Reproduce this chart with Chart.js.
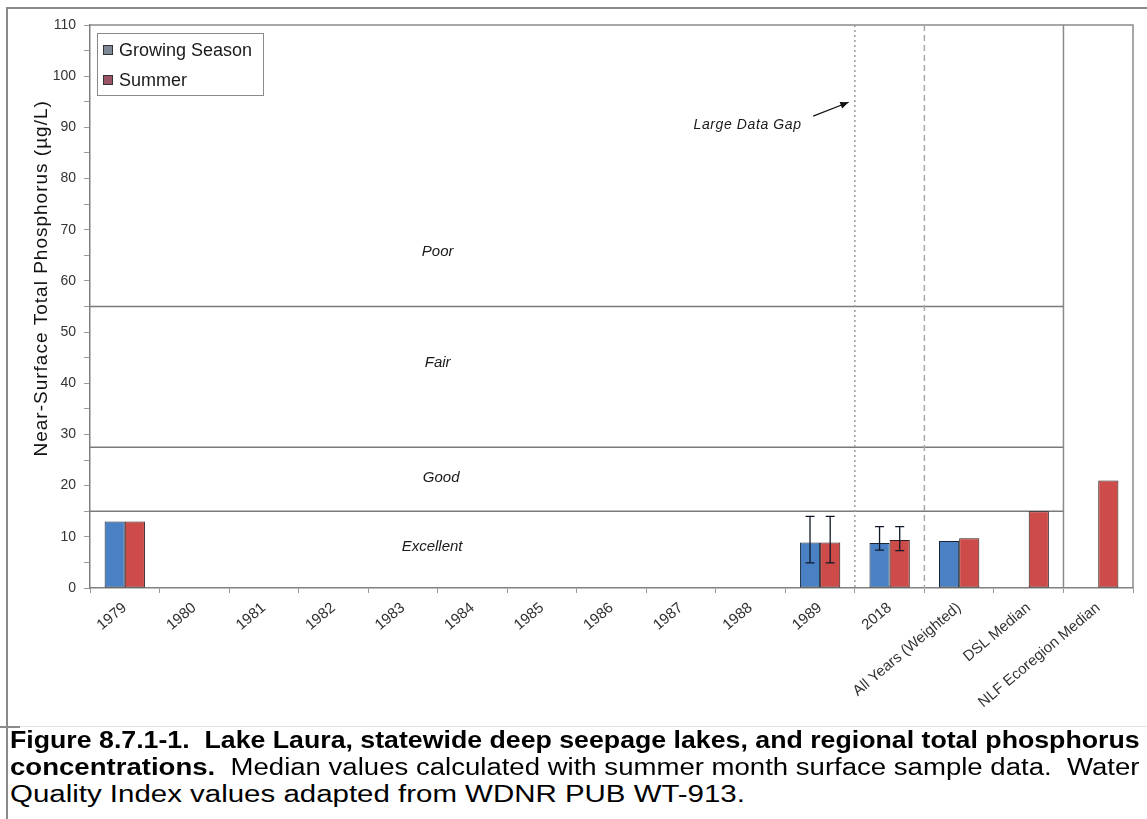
<!DOCTYPE html>
<html>
<head>
<meta charset="utf-8">
<script src="https://cdn.jsdelivr.net/npm/chart.js@4.4.1/dist/chart.umd.min.js"></script>
<style>
  html, body { margin: 0; padding: 0; background: #fff; }
  body { width: 1147px; height: 819px; position: relative; overflow: hidden; font-family: 'Liberation Sans', Arial, sans-serif; }
  #wrap { position: absolute; left: 0; top: 0; width: 1147px; height: 727px; }
  .frameL { position: absolute; left: 6px; top: 7px; width: 2px; height: 812px; background: #8a8a8a; }
  .frameT { position: absolute; left: 6px; top: 7px; width: 1141px; height: 2px; background: #8a8a8a; }
  .capLine { position: absolute; left: 0; top: 726px; width: 1147px; height: 1px; background: #e2e2e2; }
  .capTick { position: absolute; left: 0; top: 726px; width: 20px; height: 2px; background: #8a8a8a; }
  .cap { position: absolute; left: 10px; white-space: nowrap; font-size: 23px; line-height: 27px; color: #000; transform-origin: 0 0; }
  .cap b { font-weight: bold; }
</style>
</head>
<body>
<div class="frameL"></div>
<div class="frameT"></div>
<div id="wrap"><canvas id="c" width="1147" height="727"></canvas></div>
<div class="capLine"></div>
<div class="capTick"></div>
<div class="cap" id="cap1" style="top:727px"><b>Figure 8.7.1-1.&nbsp; Lake Laura, statewide deep seepage lakes, and regional total phosphorus</b></div>
<div class="cap" id="cap2" style="top:754px"><b>concentrations.</b>&nbsp; Median values calculated with summer month surface sample data.&nbsp; Water</div>
<div class="cap" id="cap3" style="top:781px">Quality Index values adapted from WDNR PUB WT-913.</div>
<script>
// ---------------- DATA ----------------
const categories = ['1979','1980','1981','1982','1983','1984','1985','1986','1987','1988','1989','2018','All Years (Weighted)','DSL Median','NLF Ecoregion Median'];
const growingSeason = [13, null, null, null, null, null, null, null, null, null, 8.9, 8.8, 9.2, null, null];
const summer        = [13, null, null, null, null, null, null, null, null, null, 8.9, 9.4, 9.7, 15, 21];
const growingLow    = [null, null, null, null, null, null, null, null, null, null, 4.9, 7.4, null, null, null];
const growingHigh   = [null, null, null, null, null, null, null, null, null, null, 14, 12, null, null, null];
const summerLow     = [null, null, null, null, null, null, null, null, null, null, 4.9, 7.3, null, null, null];
const summerHigh    = [null, null, null, null, null, null, null, null, null, null, 14, 12, null, null, null];
const yTickLabels   = [0, 10, 20, 30, 40, 50, 60, 70, 80, 90, 100, 110];
const qualityThresholds = [15, 27.5, 55];
const qualityZones  = ['Excellent', 'Good', 'Fair', 'Poor'];
const seriesNames   = ['Growing Season', 'Summer'];
const yAxisTitle    = 'Near-Surface Total Phosphorus (µg/L)';
const gapNote = 'Large Data Gap';

// ---------------- STYLE / LAYOUT ----------------
const FONT = "'Liberation Sans', Arial, sans-serif";
Chart.defaults.font.family = FONT;
const BLUE = '#4a80c4', RED = '#cd4c4a';
const LEGEND_SWATCH = ['#7f8996', '#9a5266'];
const zoneLabelPos = { x: [4.42, 4.55, 4.5, 4.5], y: [8, 21.5, 44, 65.6] };

const decorPlugin = {
  id: 'decor',
  beforeDatasetsDraw(chart) {
    const { ctx, chartArea: a, scales: { x, y } } = chart;
    const b = v => x.getPixelForValue(v);
    ctx.save();
    ctx.strokeStyle = '#8a8a8a'; ctx.lineWidth = 1.5;
    ctx.beginPath();
    ctx.moveTo(a.left, a.top); ctx.lineTo(a.right, a.top); ctx.lineTo(a.right, a.bottom);
    ctx.stroke();
    const sepSolid = b(categories.length - 1.5);
    ctx.beginPath(); ctx.moveTo(sepSolid, a.top); ctx.lineTo(sepSolid, a.bottom); ctx.stroke();
    ctx.strokeStyle = '#7a7a7a'; ctx.lineWidth = 1.5;
    qualityThresholds.forEach(t => {
      const py = y.getPixelForValue(t);
      ctx.beginPath(); ctx.moveTo(a.left, py); ctx.lineTo(sepSolid, py); ctx.stroke();
    });
    const gapX = b(categories.indexOf('1989') + 0.5);
    ctx.strokeStyle = '#9a9a9a'; ctx.lineWidth = 1.5; ctx.setLineDash([2, 3]);
    ctx.beginPath(); ctx.moveTo(gapX, a.top); ctx.lineTo(gapX, a.bottom); ctx.stroke();
    const dashX = b(categories.indexOf('2018') + 0.5);
    ctx.strokeStyle = '#a8a8a8'; ctx.setLineDash([6, 4]);
    ctx.beginPath(); ctx.moveTo(dashX, a.top); ctx.lineTo(dashX, a.bottom); ctx.stroke();
    ctx.setLineDash([]);
    ctx.fillStyle = '#1a1a1a'; ctx.font = 'italic 15px ' + FONT;
    ctx.textAlign = 'center'; ctx.textBaseline = 'middle';
    qualityZones.forEach((z, i) => {
      ctx.fillText(z, b(zoneLabelPos.x[i]), y.getPixelForValue(zoneLabelPos.y[i]));
    });
    ctx.font = 'italic 14px ' + FONT;
    try { ctx.letterSpacing = '0.6px'; } catch (e) {}
    ctx.textAlign = 'left';
    ctx.fillText(gapNote, b(8.18), y.getPixelForValue(90.4));
    try { ctx.letterSpacing = '0px'; } catch (e) {}
    const x0 = b(9.9), y0 = y.getPixelForValue(92.2), x1 = b(10.41), y1 = y.getPixelForValue(94.9);
    ctx.strokeStyle = '#111'; ctx.lineWidth = 1.2;
    ctx.beginPath(); ctx.moveTo(x0, y0); ctx.lineTo(x1, y1); ctx.stroke();
    const ang = Math.atan2(y1 - y0, x1 - x0);
    ctx.fillStyle = '#111';
    ctx.beginPath();
    ctx.moveTo(x1, y1);
    ctx.lineTo(x1 - 9 * Math.cos(ang - 0.4), y1 - 9 * Math.sin(ang - 0.4));
    ctx.lineTo(x1 - 9 * Math.cos(ang + 0.4), y1 - 9 * Math.sin(ang + 0.4));
    ctx.closePath(); ctx.fill();
    ctx.restore();
  },
  afterDatasetsDraw(chart) {
    const { ctx, scales: { y } } = chart;
    const sets = [[growingLow, growingHigh], [summerLow, summerHigh]];
    ctx.save();
    ctx.strokeStyle = '#10182a'; ctx.lineWidth = 1.3;
    sets.forEach((s, di) => {
      const meta = chart.getDatasetMeta(di);
      s[0].forEach((lo, i) => {
        const hi = s[1][i];
        if (lo == null || hi == null) return;
        const px = meta.data[i].x;
        const pl = y.getPixelForValue(lo), ph = y.getPixelForValue(hi);
        ctx.beginPath();
        ctx.moveTo(px, pl); ctx.lineTo(px, ph);
        ctx.moveTo(px - 4.5, ph); ctx.lineTo(px + 4.5, ph);
        ctx.moveTo(px - 4.5, pl); ctx.lineTo(px + 4.5, pl);
        ctx.stroke();
      });
    });
    // legend box inside plot (top-left)
    const a = chart.chartArea;
    const lx = a.left + 7, ly = a.top + 8, lw = 166, lh = 62;
    ctx.fillStyle = '#fff'; ctx.fillRect(lx, ly, lw, lh);
    ctx.strokeStyle = '#8a8a8a'; ctx.lineWidth = 1;
    ctx.strokeRect(lx + 0.5, ly + 0.5, lw, lh);
    ctx.font = '18px ' + FONT; ctx.textBaseline = 'middle'; ctx.textAlign = 'left';
    seriesNames.forEach((n, i) => {
      const cy = ly + 17 + i * 30;
      ctx.fillStyle = LEGEND_SWATCH[i];
      ctx.fillRect(lx + 6, cy - 5, 10, 10);
      ctx.strokeStyle = '#333'; ctx.strokeRect(lx + 6.5, cy - 4.5, 9, 9);
      ctx.fillStyle = '#1a1a1a';
      ctx.fillText(n, lx + 22, cy + 1);
    });
    // y axis title
    ctx.save();
    ctx.translate(42, y.getPixelForValue(60.5));
    ctx.rotate(-Math.PI / 2);
    ctx.font = '19px ' + FONT;
    try { ctx.letterSpacing = '1px'; } catch (e) {}
    ctx.fillStyle = '#111'; ctx.textAlign = 'center'; ctx.textBaseline = 'middle';
    ctx.fillText(yAxisTitle, 0, 0);
    ctx.restore();
    ctx.restore();
  }
};

new Chart(document.getElementById('c'), {
  type: 'bar',
  data: {
    labels: categories,
    datasets: [
      { label: seriesNames[0], data: growingSeason, backgroundColor: BLUE, borderColor: '#1c2533', borderWidth: 1, borderSkipped: false },
      { label: seriesNames[1], data: summer, backgroundColor: RED, borderColor: '#2a1a1a', borderWidth: 1, borderSkipped: false }
    ]
  },
  options: {
    responsive: false,
    animation: false,
    devicePixelRatio: 1,
    layout: { padding: { left: 0, top: 25, right: 14, bottom: 0 } },
    datasets: { bar: { categoryPercentage: 0.58, barPercentage: 1.0 } },
    plugins: { legend: { display: false }, tooltip: { enabled: false } },
    scales: {
      x: {
        type: 'category',
        grid: { display: true, drawOnChartArea: false, tickLength: 5, color: '#9a9a9a', offset: true },
        border: { color: '#808080', width: 1.5 },
        ticks: { autoSkip: false, maxRotation: 40, minRotation: 40, padding: 6, color: '#333', font: { size: 15 } },
        afterFit(s) { s.height = 139; }
      },
      y: {
        min: 0, max: 110,
        grid: { display: true, drawOnChartArea: false, tickLength: 6, color: '#9a9a9a' },
        border: { color: '#808080', width: 1.5 },
        ticks: {
          stepSize: 5, autoSkip: false, padding: 8, color: '#333', font: { size: 14 },
          callback: v => (yTickLabels.includes(v) ? String(v) : '')
        },
        title: { display: false },
        afterFit(s) { s.width = 90; }
      }
    }
  },
  plugins: [decorPlugin]
});

// caption fitting: glyph stretch from line 3, justified lines 1-2 to x=1140
function fitCaption() {
  const target = 1130, line3Target = 735;
  const c1 = document.getElementById('cap1'), c2 = document.getElementById('cap2'), c3 = document.getElementById('cap3');
  const k = line3Target / c3.offsetWidth;
  c3.style.transform = 'scaleX(' + k + ')';
  [c1, c2].forEach(el => {
    const w = el.offsetWidth;
    if (w * k <= target) {
      const spaces = (el.textContent.match(/[ \u00a0]/g) || []).length;
      el.style.wordSpacing = ((target / k - w) / spaces) + 'px';
      el.style.transform = 'scaleX(' + k + ')';
    } else {
      el.style.transform = 'scaleX(' + (target / w) + ')';
    }
  });
}
fitCaption();
</script>
</body>
</html>
